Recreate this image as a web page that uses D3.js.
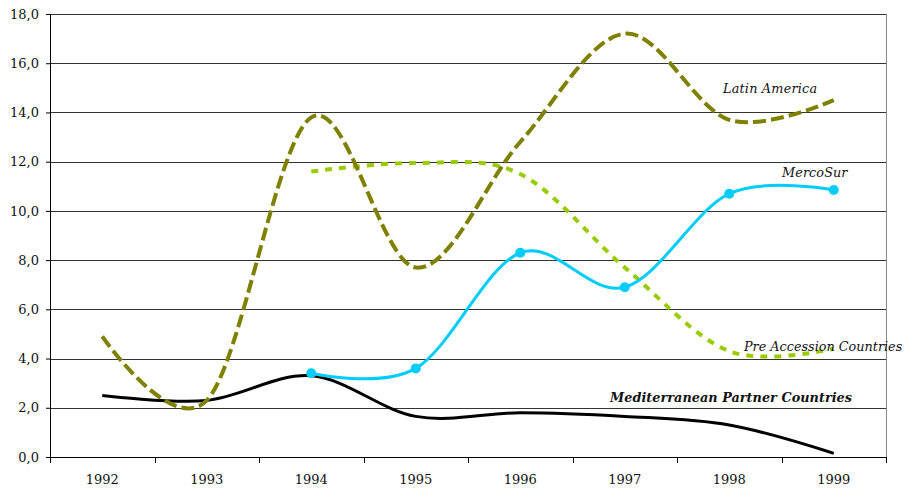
<!DOCTYPE html>
<html>
<head>
<meta charset="utf-8">
<script src="https://cdn.jsdelivr.net/npm/d3@7"></script>
<style>
  body { margin: 0; background: #fff; }
  svg text { font-family: "DejaVu Serif", serif; }
</style>
</head>
<body>
<script>
var years = ['1992', '1993', '1994', '1995', '1996', '1997', '1998', '1999'];
var latinAmerica = [4.9, 2.3, 13.8, 7.7, 12.8, 17.2, 13.7, 14.5];
var preAccession = [null, null, 11.6, 11.95, 11.5, 7.7, 4.3, 4.4];
var mercoSur = [null, null, 3.4, 3.6, 8.3, 6.9, 10.7, 10.85];
var mediterranean = [2.5, 2.3, 3.3, 1.65, 1.8, 1.65, 1.3, 0.15];
var yTicks = [0, 2, 4, 6, 8, 10, 12, 14, 16, 18];

var w = 908, h = 488;
var plotL = 50, plotR = 886, plotT = 14, plotB = 457;

var svg = d3.select('body').append('svg')
  .attr('width', w)
  .attr('height', h);

var x = d3.scaleBand().domain(years).range([plotL, plotR]);
var y = d3.scaleLinear().domain([0, 18]).range([plotB, plotT]);

// grid lines
svg.append('g')
  .selectAll('line')
  .data(yTicks.filter(d => d > 0))
  .enter()
  .append('line')
    .attr('x1', plotL).attr('x2', plotR)
    .attr('y1', d => Math.round(y(d)) + 0.5)
    .attr('y2', d => Math.round(y(d)) + 0.5)
    .attr('stroke', '#333')
    .attr('stroke-width', 1);

// right border
svg.append('line')
  .attr('x1', plotR + 0.5).attr('x2', plotR + 0.5)
  .attr('y1', plotT).attr('y2', plotB)
  .attr('stroke', '#888');

var fmt = d => d.toFixed(1).replace('.', ',');

var yAxis = svg.append('g')
  .attr('transform', 'translate(' + plotL + ',0)')
  .call(d3.axisLeft(y).tickValues(yTicks).tickFormat(fmt).tickSize(4).tickPadding(7));
yAxis.attr('font-family', null);
yAxis.selectAll('text').attr('font-size', 13).attr('fill', '#111');
yAxis.select('.domain').attr('stroke', '#000');

// x axis with ticks at band edges
var xAxis = svg.append('g')
  .attr('transform', 'translate(0,' + plotB + ')');
xAxis.append('line')
  .attr('x1', plotL).attr('x2', plotR)
  .attr('y1', 0.5).attr('y2', 0.5)
  .attr('stroke', '#000');
xAxis.selectAll('.edge')
  .data(years.concat(['end']))
  .enter()
  .append('line')
    .attr('class', 'edge')
    .attr('x1', (d, i) => Math.round(plotL + i * x.bandwidth()) + 0.5)
    .attr('x2', (d, i) => Math.round(plotL + i * x.bandwidth()) + 0.5)
    .attr('y1', 0).attr('y2', 6)
    .attr('stroke', '#000');
xAxis.selectAll('text')
  .data(years)
  .enter()
  .append('text')
    .attr('x', d => x(d) + x.bandwidth() / 2)
    .attr('y', 27)
    .attr('text-anchor', 'middle')
    .attr('font-size', 13)
    .attr('fill', '#111')
    .text(d => d);

function drawSeries(values, color, width, dash) {
  var line = d3.line()
    .defined(d => d != null)
    .x((d, i) => x(years[i]) + x.bandwidth() / 2)
    .y(d => y(d))
    .curve(d3.curveCardinal.tension(0));
  svg.append('path')
    .datum(values)
    .attr('d', line)
    .attr('fill', 'none')
    .attr('stroke', color)
    .attr('stroke-width', width)
    .attr('stroke-dasharray', dash);
}

drawSeries(mediterranean, '#000', 3, null);
drawSeries(preAccession, '#99CC00', 4, '7,7');
drawSeries(latinAmerica, '#808000', 4, '13,5');
drawSeries(mercoSur, '#00CCFF', 3, null);

svg.append('g')
  .selectAll('circle')
  .data(mercoSur.map((v, i) => ({ v: v, yr: years[i] })).filter(d => d.v != null))
  .enter()
  .append('circle')
    .attr('cx', d => x(d.yr) + x.bandwidth() / 2)
    .attr('cy', d => y(d.v))
    .attr('r', 5)
    .attr('fill', '#00CCFF');

var labels = [
  { t: 'Latin America', x: 723, y: 93, bold: false, ls: 0.2 },
  { t: 'MercoSur', x: 782, y: 177, bold: false, ls: 0.1 },
  { t: 'Pre Accession Countries', x: 744, y: 351, bold: false, ls: 0 },
  { t: 'Mediterranean Partner Countries', x: 610, y: 402, bold: true, ls: 0.05 }
];
svg.selectAll('.lbl')
  .data(labels)
  .enter()
  .append('text')
    .attr('class', 'lbl')
    .attr('x', d => d.x)
    .attr('y', d => d.y)
    .attr('font-size', 12.8)
    .attr('font-style', 'italic')
    .attr('font-weight', d => d.bold ? 'bold' : 'normal')
    .attr('letter-spacing', d => d.ls)
    .attr('fill', '#111')
    .text(d => d.t);
</script>
</body>
</html>
